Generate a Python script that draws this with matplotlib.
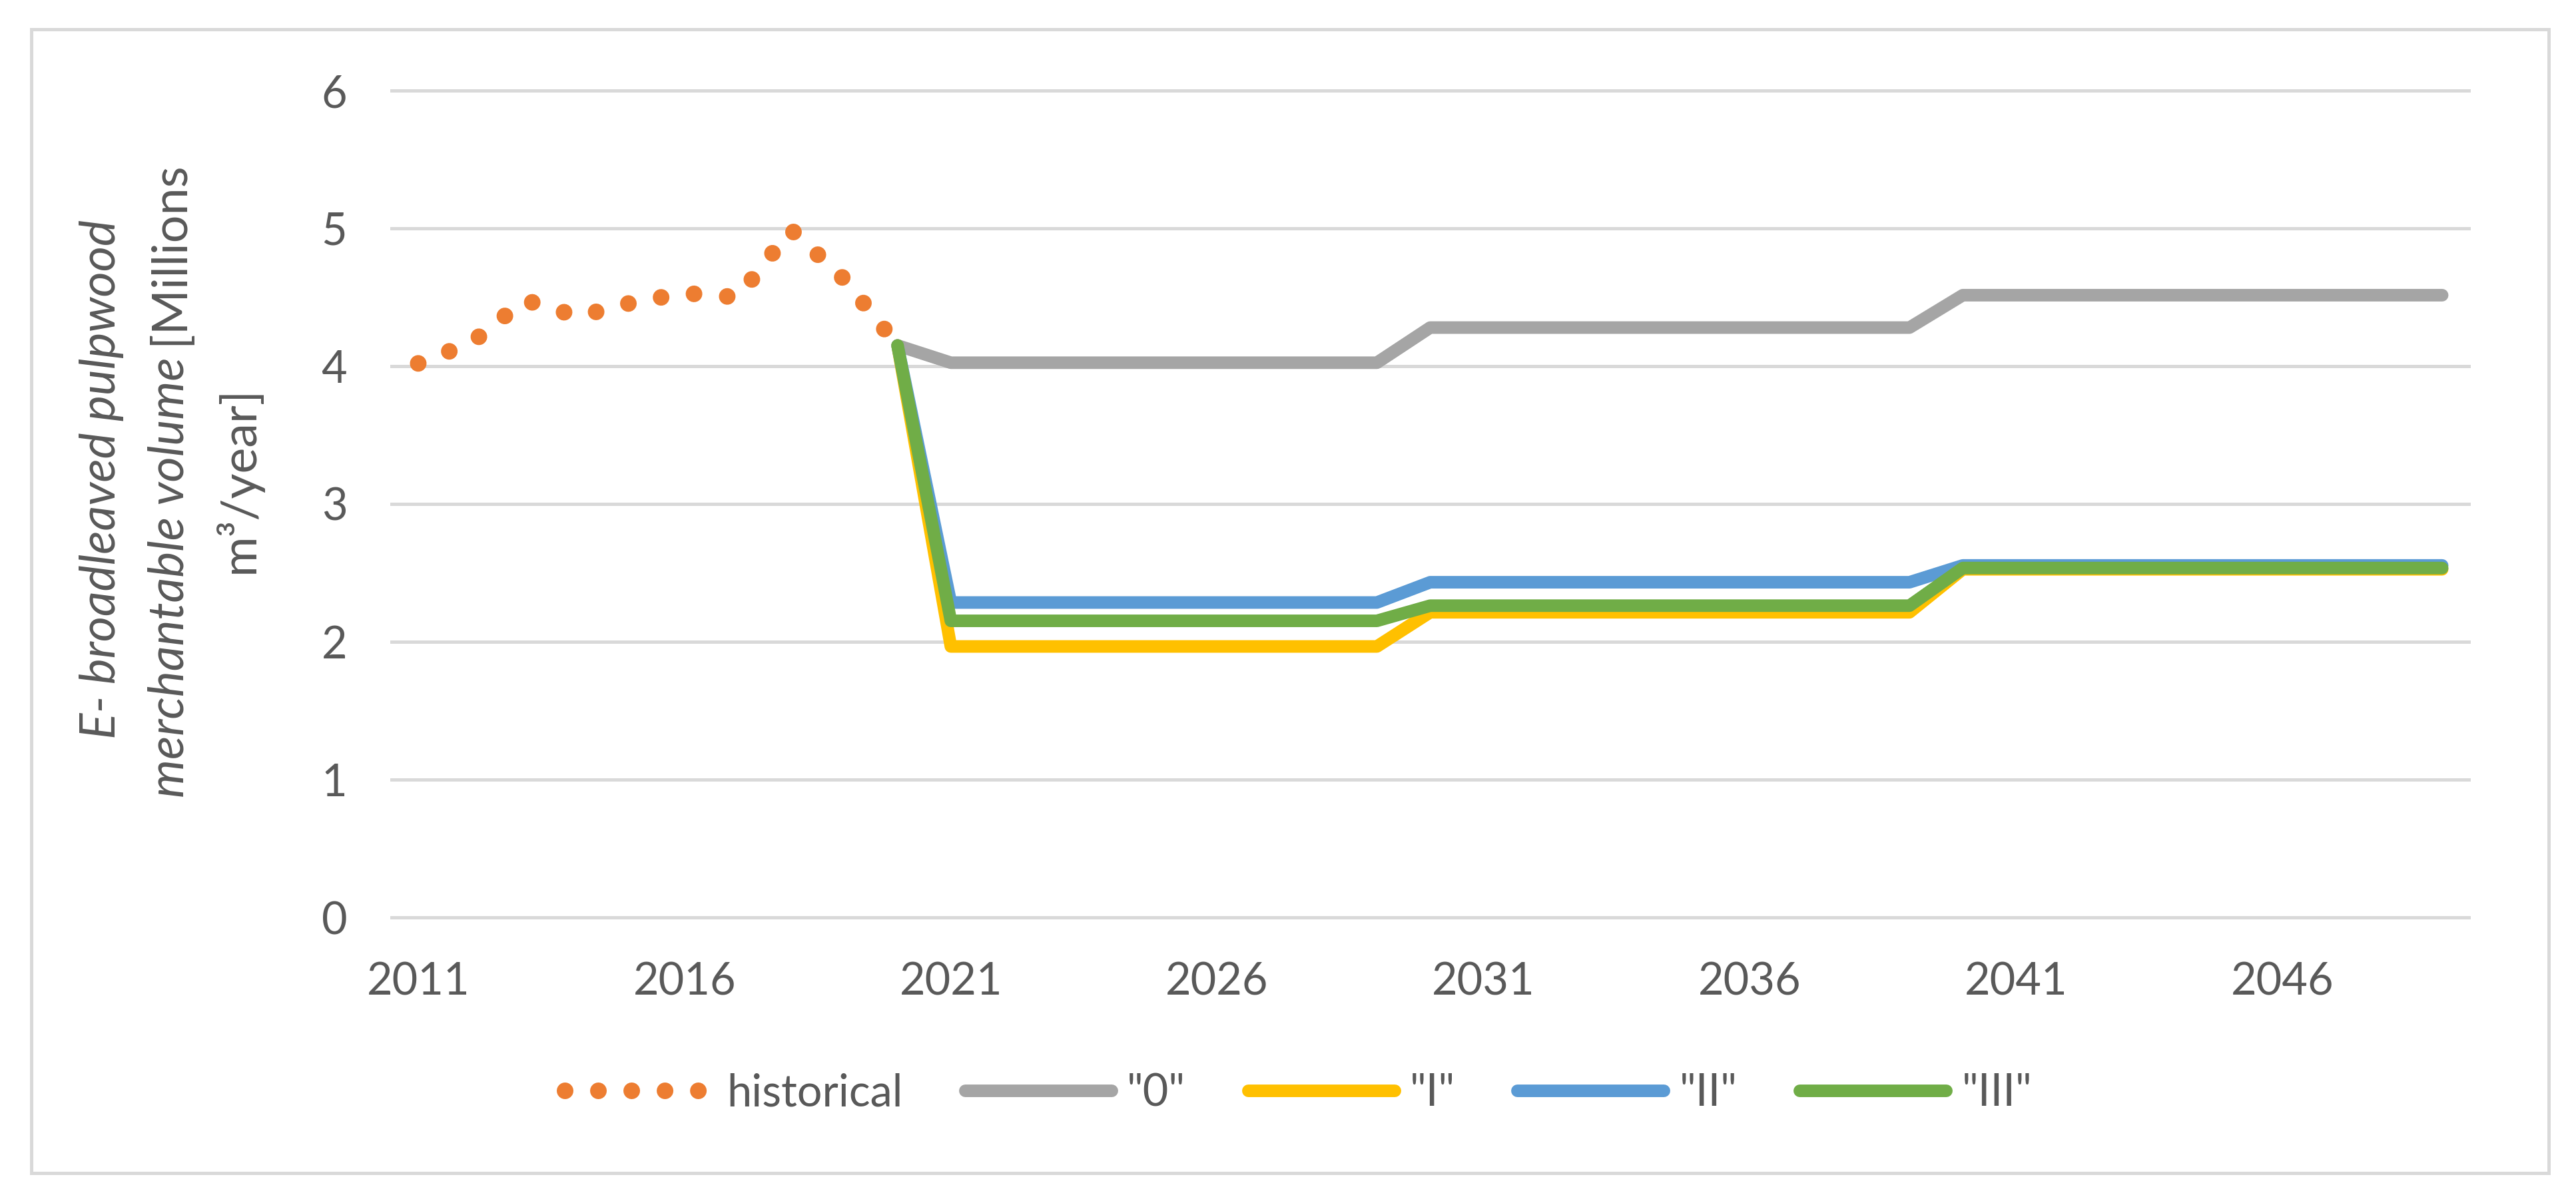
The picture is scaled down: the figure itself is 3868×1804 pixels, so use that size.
import numpy as np
import matplotlib
matplotlib.use("Agg")
import matplotlib.pyplot as plt
from matplotlib.lines import Line2D
from matplotlib.patches import Rectangle

plt.rcParams['font.family'] = ['Lato', 'DejaVu Sans']

# data (Millions m3/year)
hist_years = list(range(2011, 2021))
hist_vals = [4.02, 4.17, 4.48, 4.36, 4.46, 4.53, 4.50, 4.99, 4.63, 4.15]

scen_years = list(range(2020, 2050))
s0 = [4.15] + [4.025]*9 + [4.28]*10 + [4.515]*10
s1 = [4.15] + [1.966]*9 + [2.214]*10 + [2.526]*10
s2 = [4.15] + [2.285]*9 + [2.432]*10 + [2.554]*10
s3 = [4.15] + [2.152]*9 + [2.262]*10 + [2.535]*10

labels = ['historical', '"0"', '"I"', '"II"', '"III"']
colors = ['#ED7D31', '#A5A5A5', '#FFC000', '#5B9BD5', '#70AD47']
xtick_years = list(range(2011, 2047, 5))
yticks = [0, 1, 2, 3, 4, 5, 6]

txt = '#595959'
grid = '#D9D9D9'
W, H = 3868, 1804
dpi = 200

fig = plt.figure(figsize=(W/dpi, H/dpi), dpi=dpi)
ax = fig.add_axes([588/W, 1-1378/H, (3707-588)/W, (1378-136)/H])

for y in yticks:
    ax.axhline(y, color=grid, lw=1.8, zorder=0, clip_on=False)

lw_dot = 9.0
lw_line = 6.8
ax.plot(hist_years, hist_vals, color=colors[0], lw=lw_dot, dashes=(0.001, 2.0),
        dash_capstyle='round', label=labels[0], zorder=2)
for vals, c, lab in zip([s0, s1, s2, s3], colors[1:], labels[1:]):
    ax.plot(scen_years, vals, color=c, lw=lw_line, solid_capstyle='round',
            solid_joinstyle='round', label=lab, zorder=3)

ax.set_xlim(2010.5, 2049.5)
ax.set_ylim(0, 6)
ax.set_xticks(xtick_years)
ax.set_xticklabels([str(y) for y in xtick_years])
ax.set_yticks(yticks)
for s in ax.spines.values():
    s.set_visible(False)
ax.tick_params(axis='both', length=0, labelsize=24, labelcolor=txt, pad=24)

# legend under the plot
handles, labs = ax.get_legend_handles_labels()
fig.legend(handles, labs, loc='center', bbox_to_anchor=(0.504, 1-1642/H), ncol=5,
           frameon=False, handlelength=3.3, handletextpad=0.35, columnspacing=1.4,
           fontsize=24, labelcolor=txt)

# y label: three rotated lines, italic part + upright part
fs_lab = 26.5
yc = 720
renderer = fig.canvas.get_renderer()

def label_line(xpx, parts):
    objs = []
    for s, style in parts:
        t = fig.text(xpx/W, 0, s, rotation=90, style=style, fontsize=fs_lab,
                     color=txt, ha='center', va='bottom')
        objs.append(t)
    gap = fs_lab*dpi/72*0.25
    hs = [t.get_window_extent(renderer).height for t in objs]
    total = sum(hs) + gap*(len(objs)-1)
    ystart = yc + total/2  # pixel from top
    cur = H - ystart
    for t, h in zip(objs, hs):
        t.set_y(cur/H)
        cur += h + gap

label_line(153, [('E- broadleaved pulpwood', 'italic')])
label_line(255, [('merchantable volume', 'italic'), ('[Millions', 'normal')])
label_line(357, [('m\u00b3/year]', 'normal')])

fig.patches.append(Rectangle((47/W, 1-1762/H), (3827-47)/W, (1762-44)/H,
                             transform=fig.transFigure, fill=False,
                             edgecolor=grid, lw=1.8))

fig.savefig('out.png', dpi=dpi)
